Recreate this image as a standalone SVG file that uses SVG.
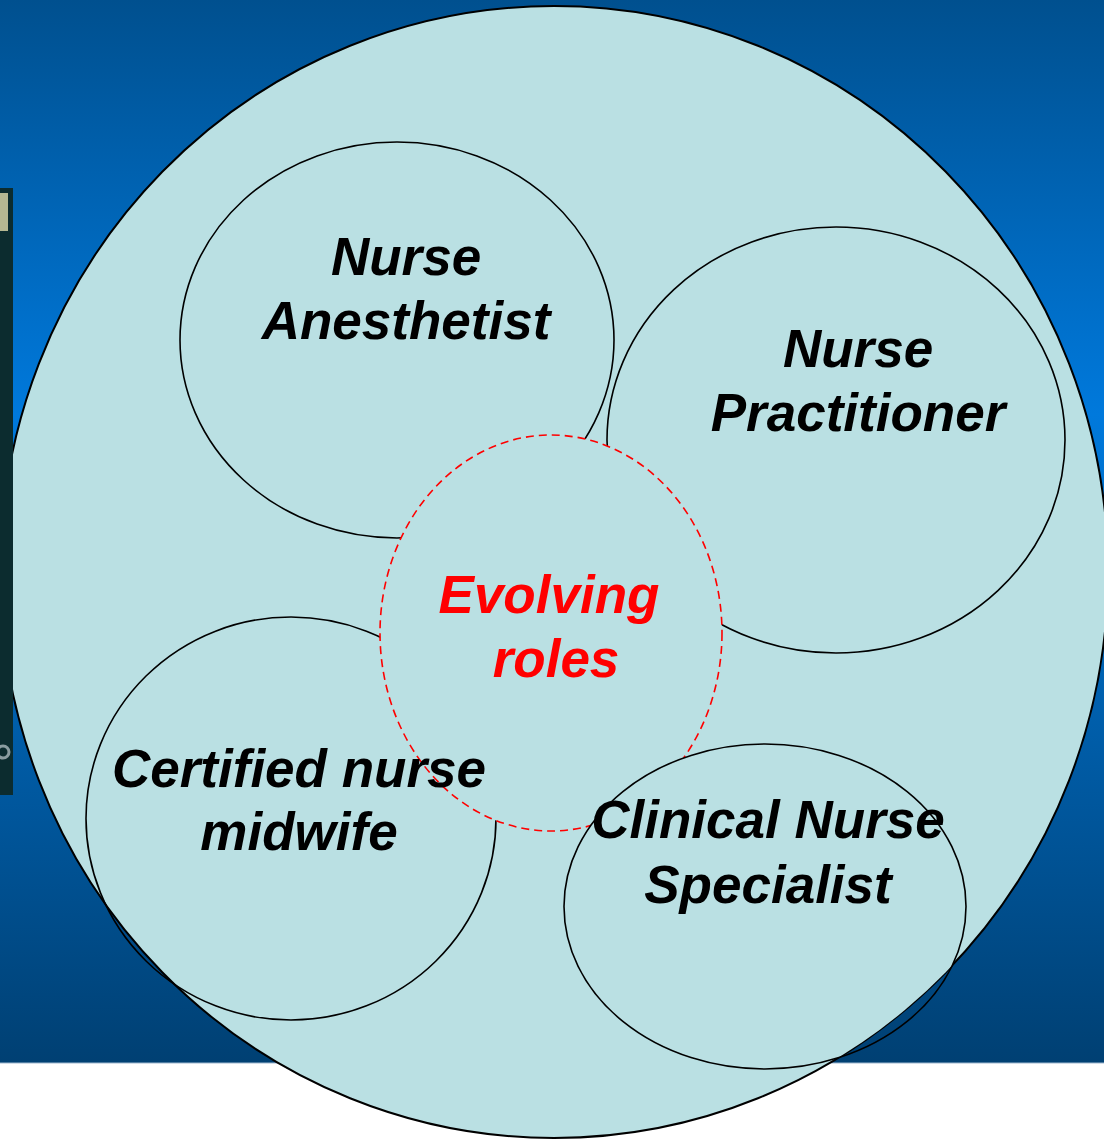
<svg xmlns="http://www.w3.org/2000/svg" width="1104" height="1139" viewBox="0 0 1104 1139">
  <style>
    .role { fill: none; stroke: #000; stroke-width: 1.6; }
    .lbl { font-family: "Liberation Sans", Arial, sans-serif; font-weight: bold; font-style: italic; font-size: 53px; fill: #000; text-anchor: middle; }
    .red { fill: #FF0000; }
  </style>
  <defs>
    <linearGradient id="bg" x1="0" y1="0" x2="0" y2="1">
      <stop offset="0" stop-color="#00508F"/>
      <stop offset="0.39" stop-color="#0079DC"/>
      <stop offset="1" stop-color="#004073"/>
    </linearGradient>
    <clipPath id="bigClip">
      <ellipse cx="554" cy="572" rx="554" ry="566"/>
    </clipPath>
  </defs>

  <g id="background">
    <rect x="0" y="0" width="1104" height="1139" fill="#FFFFFF"/>
    <rect x="0" y="0" width="1104" height="1063" fill="url(#bg)"/>
    <line x1="0" y1="1063" x2="1104" y2="1063" stroke="#9FB8D0" stroke-width="1"/>
  </g>

  <g id="outer">
    <ellipse cx="554" cy="572" rx="554" ry="566" fill="#BAE0E3" stroke="#000" stroke-width="2"/>
  </g>

  <g id="side-strip">
    <rect x="0" y="188" width="13" height="607" fill="#0C2C2F"/>
    <rect x="0" y="193" width="8" height="38" fill="#B5B892"/>
    <circle cx="3" cy="752" r="6" fill="none" stroke="#8A9CA0" stroke-width="3"/>
  </g>

  <g id="nurse-anesthetist">
    <ellipse class="role" cx="397" cy="340" rx="217" ry="198"/>
    <text class="lbl" x="406" y="275">Nurse</text>
    <text class="lbl" x="406" y="339">Anesthetist</text>
  </g>

  <g id="nurse-practitioner">
    <ellipse class="role" cx="836" cy="440" rx="229" ry="213"/>
    <text class="lbl" x="858" y="367">Nurse</text>
    <text class="lbl" x="858" y="431">Practitioner</text>
  </g>

  <g id="certified-nurse-midwife">
    <ellipse class="role" cx="291" cy="818.5" rx="205" ry="201.5"/>
  </g>

  <g id="evolving-roles">
    <ellipse cx="551" cy="633" rx="171" ry="198" fill="#BAE0E3" stroke="#FF0000" stroke-width="1.6" stroke-dasharray="8,5"/>
    <text class="lbl red" x="549" y="613">Evolving</text>
    <text class="lbl red" x="556" y="677">roles</text>
  </g>

  <g id="midwife-label">
    <text class="lbl" x="299" y="787">Certified nurse</text>
    <text class="lbl" x="299" y="850">midwife</text>
  </g>

  <g id="clinical-nurse-specialist">
    <ellipse cx="765" cy="906.5" rx="201" ry="162.5" fill="#BAE0E3" stroke="none" clip-path="url(#bigClip)"/>
    <ellipse class="role" cx="765" cy="906.5" rx="201" ry="162.5"/>
    <text class="lbl" x="768" y="838">Clinical Nurse</text>
    <text class="lbl" x="768" y="903">Specialist</text>
  </g>

  <g id="connectors"></g>
</svg>
